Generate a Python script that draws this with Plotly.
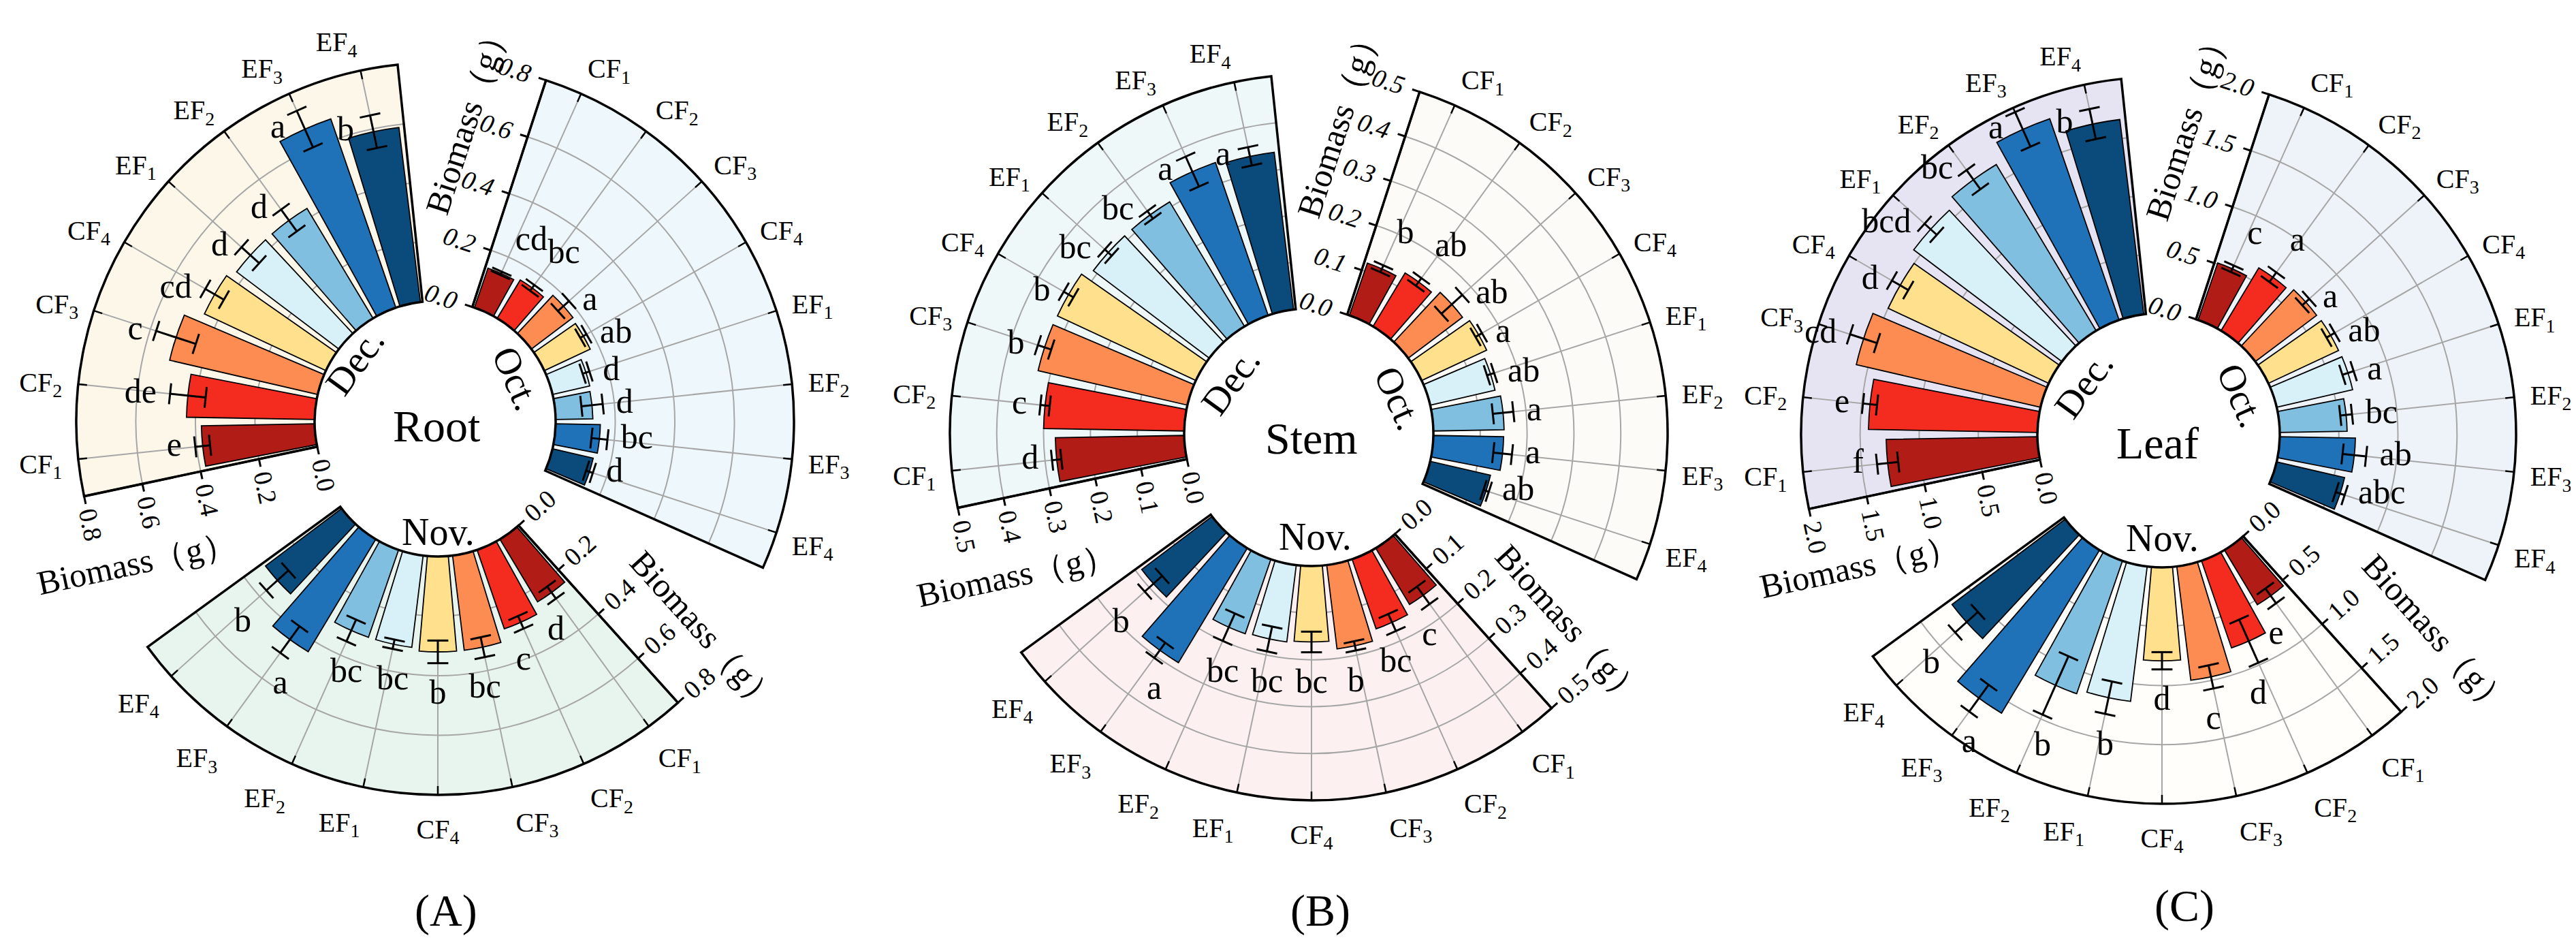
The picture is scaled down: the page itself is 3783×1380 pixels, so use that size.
import math
import plotly.graph_objects as go

W, H = 3783, 1380
FONT = "Liberation Serif"

# ---------------- data ----------------
categories = ["CF<sub>1</sub>", "CF<sub>2</sub>", "CF<sub>3</sub>", "CF<sub>4</sub>",
              "EF<sub>1</sub>", "EF<sub>2</sub>", "EF<sub>3</sub>", "EF<sub>4</sub>"]
bar_colors = ["#b11c17", "#f42b1f", "#fc8c51", "#fee08d",
              "#d8f1f8", "#80bfdf", "#1f72b8", "#0b4b7c"]
months = ["Oct.", "Nov.", "Dec."]
organs = ["Root", "Stem", "Leaf"]
panel_tags = ["(A)", "(B)", "(C)"]

root_oct = [0.14, 0.15, 0.175, 0.17, 0.128, 0.125, 0.15, 0.14]
root_oct_err = [0.006, 0.012, 0.025, 0.012, 0.012, 0.036, 0.027, 0.012]
root_oct_sig = ["cd", "bc", "a", "ab", "d", "d", "bc", "d"]
root_nov = [0.245, 0.28, 0.32, 0.32, 0.31, 0.31, 0.44, 0.32]
root_nov_err = [0.025, 0.023, 0.034, 0.038, 0.016, 0.04, 0.055, 0.05]
root_nov_sig = ["d", "c", "bc", "b", "bc", "bc", "a", "b"]
root_dec = [0.38, 0.43, 0.51, 0.45, 0.43, 0.43, 0.67, 0.59]
root_dec_err = [0.025, 0.06, 0.07, 0.036, 0.04, 0.045, 0.067, 0.056]
root_dec_sig = ["e", "de", "c", "cd", "d", "d", "a", "b"]

stem_oct = [0.118, 0.133, 0.145, 0.153, 0.142, 0.151, 0.15, 0.132]
stem_oct_err = [0.008, 0.01, 0.03, 0.008, 0.008, 0.022, 0.02, 0.006]
stem_oct_sig = ["b", "ab", "ab", "a", "ab", "a", "a", "ab"]
stem_nov = [0.14, 0.157, 0.18, 0.162, 0.165, 0.168, 0.285, 0.188]
stem_nov_err = [0.023, 0.02, 0.01, 0.022, 0.027, 0.032, 0.02, 0.025]
stem_nov_sig = ["c", "bc", "b", "bc", "bc", "bc", "a", "b"]
stem_dec = [0.275, 0.30, 0.327, 0.326, 0.31, 0.31, 0.345, 0.338]
stem_dec_err = [0.01, 0.01, 0.015, 0.012, 0.01, 0.01, 0.035, 0.02]
stem_dec_sig = ["d", "c", "b", "b", "bc", "bc", "a", "a"]

leaf_oct = [0.51, 0.62, 0.65, 0.655, 0.66, 0.57, 0.64, 0.59]
leaf_oct_err = [0.03, 0.05, 0.04, 0.04, 0.05, 0.05, 0.1, 0.04]
leaf_oct_sig = ["c", "a", "a", "ab", "a", "bc", "ab", "abc"]
leaf_nov = [0.54, 0.78, 0.97, 0.79, 1.15, 1.19, 1.61, 1.20]
leaf_nov_err = [0.077, 0.20, 0.10, 0.073, 0.14, 0.27, 0.14, 0.13]
leaf_nov_sig = ["e", "d", "c", "d", "b", "b", "a", "b"]
leaf_dec = [1.28, 1.43, 1.60, 1.50, 1.57, 1.64, 1.80, 1.66]
leaf_dec_err = [0.09, 0.06, 0.12, 0.08, 0.07, 0.10, 0.16, 0.13]
leaf_dec_sig = ["f", "e", "cd", "d", "bcd", "bc", "a", "b"]

radial_max = [0.8, 0.5, 2.0]
radial_step = [0.2, 0.1, 0.5]

values = {
    "Root": {"Oct.": (root_oct, root_oct_err, root_oct_sig),
             "Nov.": (root_nov, root_nov_err, root_nov_sig),
             "Dec.": (root_dec, root_dec_err, root_dec_sig)},
    "Stem": {"Oct.": (stem_oct, stem_oct_err, stem_oct_sig),
             "Nov.": (stem_nov, stem_nov_err, stem_nov_sig),
             "Dec.": (stem_dec, stem_dec_err, stem_dec_sig)},
    "Leaf": {"Oct.": (leaf_oct, leaf_oct_err, leaf_oct_sig),
             "Nov.": (leaf_nov, leaf_nov_err, leaf_nov_sig),
             "Dec.": (leaf_dec, leaf_dec_err, leaf_dec_sig)},
}

# ---------------- layout / style ----------------
geom = {
    "Root": dict(cx=631, cy=611, ncx=635, ncy=632, hole=177, R=527),
    "Stem": dict(cx=1914, cy=628, ncx=1918, ncy=640, hole=183, R=527),
    "Leaf": dict(cx=3162, cy=630, ncx=3167, ncy=647, hole=178, R=525),
}
PERIOD = 30  # 12 degrees per category
month_style = {
    "Oct.": dict(sector=[-24, 72], rotation=66, axis_angle=72, tickangle=90, italic=True,
                 textpos=["top right", "top right", "middle right", "middle right",
                          "middle right", "middle right", "middle right", "middle right"],
                 at_err=[True] * 8, msize=[30] * 8),
    "Nov.": dict(sector=[216, 312], rotation=-54, axis_angle=-48, tickangle=-90, italic=False,
                 textpos=["bottom center"] * 7 + ["bottom left"],
                 at_err=[True] * 8, msize=[34] * 8),
    "Dec.": dict(sector=[96, 192], rotation=-174, axis_angle=-168, tickangle=-90, italic=False,
                 textpos=["middle left"] * 8,
                 at_err=[True] * 6 + [False, False], msize=[30] * 6 + [44, 44]),
}
bgcolors = {
    "Root": {"Oct.": "#eef8fc", "Nov.": "#e8f5ef", "Dec.": "#fdf7ea"},
    "Stem": {"Oct.": "#fdfbf8", "Nov.": "#fdf0f1", "Dec.": "#eff8f8"},
    "Leaf": {"Oct.": "#eef3f9", "Nov.": "#fffefa", "Dec.": "#e6e4f2"},
}
GRID = "#a6a6a6"

month_label_pos = {
    "Root": {"Oct.": (750, 547), "Nov.": (635, 773), "Dec.": (513, 523)},
    "Stem": {"Oct.": (2046, 577), "Nov.": (1924, 780), "Dec.": (1799, 552)},
    "Leaf": {"Oct.": (3283, 572), "Nov.": (3167, 782), "Dec.": (3052, 557)},
}
month_label_angle = {"Oct.": 66, "Nov.": 0, "Dec.": -54}
organ_pos = {"Root": (633, 617), "Stem": (1918, 635), "Leaf": (3160, 642)}
tag_pos = {"Root": (647, 1329), "Stem": (1931, 1329), "Leaf": (3200, 1322)}
title_pos = {
    "Root": {"Oct.": (678, 164), "Nov.": (1026, 918), "Dec.": (192, 818)},
    "Stem": {"Oct.": (1958, 169), "Nov.": (2297, 909), "Dec.": (1484, 836)},
    "Leaf": {"Oct.": (3204, 173), "Nov.": (3570, 923), "Dec.": (2722, 823)},
}
title_angle = {"Oct.": -72, "Nov.": 48, "Dec.": -12}


def sector_bbox(sector):
    s0, s1 = sector
    arc = s1 - s0
    a0 = s0 % 360
    a1 = a0 + arc
    ax0, ay0 = math.cos(math.radians(a0)), math.sin(math.radians(a0))
    ax1, ay1 = math.cos(math.radians(a1)), math.sin(math.radians(a1))
    if (a0 <= 90 and a1 >= 90) or (a0 > 90 and a1 >= 450):
        y1 = 1
    elif ay0 <= 0 and ay1 <= 0:
        y1 = 0
    else:
        y1 = max(ay0, ay1)
    if (a0 <= 180 and a1 >= 180) or (a0 > 180 and a1 >= 540):
        x0 = -1
    elif ax0 >= 0 and ax1 >= 0:
        x0 = 0
    else:
        x0 = min(ax0, ax1)
    if (a0 <= 270 and a1 >= 270) or (a0 > 270 and a1 >= 630):
        y0 = -1
    elif ay0 >= 0 and ay1 >= 0:
        y0 = 0
    else:
        y0 = min(ay0, ay1)
    if a1 >= 360:
        x1 = 1
    elif ax0 <= 0 and ax1 <= 0:
        x1 = 0
    else:
        x1 = max(ax0, ax1)
    return x0, y0, x1, y1


fig = go.Figure()
layout_polars = {}
annotations = []
k = 0
for p, organ in enumerate(organs):
    g = geom[organ]
    rmax = radial_max[p]
    step = radial_step[p]
    nt = int(round(rmax / step))
    tickvals = [round(i * step, 3) for i in range(nt + 1)]
    for month in months:
        k += 1
        pid = "polar" if k == 1 else f"polar{k}"
        ms = month_style[month]
        cx, cy = (g["ncx"], g["ncy"]) if month == "Nov." else (g["cx"], g["cy"])
        R = g["R"]
        bx0, by0, bx1, by1 = sector_bbox(ms["sector"])
        dom_x = [(cx + R * bx0) / W, (cx + R * bx1) / W]
        dom_y = [1 - (cy - R * by0) / H, 1 - (cy - R * by1) / H]
        ticktext = [f"{v:.1f}" for v in tickvals]
        if ms["italic"]:
            ticktext = [f"<i>{t}</i>" for t in ticktext]
        layout_polars[pid] = dict(
            domain=dict(x=dom_x, y=dom_y),
            sector=ms["sector"],
            hole=g["hole"] / R,
            bgcolor=bgcolors[organ][month],
            radialaxis=dict(
                range=[0, rmax], angle=ms["axis_angle"], side="counterclockwise",
                tickmode="array", tickvals=tickvals, ticktext=ticktext,
                tickangle=ms["tickangle"],
                tickfont=dict(family=FONT, size=38, color="black"),
                ticks="outside", ticklen=10, tickwidth=2.5, tickcolor="black",
                showline=True, linecolor="black", linewidth=3,
                showgrid=True, gridcolor=GRID, gridwidth=1.5,
                layer="above traces"),
            angularaxis=dict(
                type="category", categoryorder="array", categoryarray=categories,
                period=PERIOD, rotation=ms["rotation"], direction="clockwise",
                tickfont=dict(family=FONT, size=40, color="black"),
                ticks="outside", ticklen=14, tickwidth=1, tickcolor="rgba(0,0,0,0)",
                showline=True, linecolor="black", linewidth=3.5,
                showgrid=True, gridcolor=GRID, gridwidth=1.5),
        )

        vals, errs, sigs = values[organ][month]
        span = R - g["hole"]
        # bars
        fig.add_trace(go.Barpolar(
            r=vals, theta=categories, width=0.83, subplot=pid,
            marker=dict(color=bar_colors, line=dict(color="black", width=1.8)),
            hoverinfo="skip", showlegend=False))
        # inward tick marks on the outer arc
        tr, tt = [], []
        for c in categories:
            tr += [rmax * (1 - 13 / span), rmax, None]
            tt += [c, c, None]
        fig.add_trace(go.Scatterpolar(
            r=tr, theta=tt, mode="lines", subplot=pid, cliponaxis=False,
            line=dict(color="black", width=2.5), hoverinfo="skip", showlegend=False))
        # error bar stems
        er, et = [], []
        for v, e, c in zip(vals, errs, categories):
            er += [v - e, v + e, None]
            et += [c, c, None]
        fig.add_trace(go.Scatterpolar(
            r=er, theta=et, mode="lines", subplot=pid, cliponaxis=False,
            line=dict(color="black", width=3), hoverinfo="skip", showlegend=False))
        # caps (perpendicular to the bar direction)
        cap_r, cap_t, cap_a = [], [], []
        for i, (v, e, c) in enumerate(zip(vals, errs, categories)):
            phi = ms["rotation"] - i * 360 / PERIOD
            cap_r += [v - e, v + e]
            cap_t += [c, c]
            cap_a += [-phi, -phi]
        fig.add_trace(go.Scatterpolar(
            r=cap_r, theta=cap_t, mode="markers", subplot=pid, cliponaxis=False,
            marker=dict(symbol="line-ns", size=22, angle=cap_a,
                        line=dict(color="black", width=3)),
            hoverinfo="skip", showlegend=False))
        # significance letters
        fig.add_trace(go.Scatterpolar(
            r=[v + e if a else v for v, e, a in zip(vals, errs, ms["at_err"])],
            theta=categories,
            mode="markers+text", subplot=pid, cliponaxis=False,
            text=sigs, textposition=ms["textpos"],
            textfont=dict(family=FONT, size=50, color="black"),
            marker=dict(size=ms["msize"], color="rgba(0,0,0,0)", line=dict(width=0)),
            hoverinfo="skip", showlegend=False))

        # month label
        mx, my = month_label_pos[organ][month]
        annotations.append(dict(
            text=month, x=mx / W, y=1 - my / H, xref="paper", yref="paper",
            showarrow=False, textangle=month_label_angle[month],
            font=dict(family=FONT, size=56, color="black"),
            xanchor="center", yanchor="middle"))
        # radial axis title
        tx, ty = title_pos[organ][month]
        annotations.append(dict(
            text="Biomass（g）", x=tx / W, y=1 - ty / H, xref="paper", yref="paper",
            showarrow=False, textangle=title_angle[month],
            font=dict(family=FONT, size=50, color="black"),
            xanchor="center", yanchor="middle"))

    ox, oy = organ_pos[organ]
    annotations.append(dict(
        text=organ, x=ox / W, y=1 - oy / H, xref="paper", yref="paper",
        showarrow=False, font=dict(family=FONT, size=66, color="black"),
        xanchor="center", yanchor="middle"))
    px, py = tag_pos[organ]
    annotations.append(dict(
        text=panel_tags[p], x=px / W, y=1 - py / H, xref="paper", yref="paper",
        showarrow=False, font=dict(family=FONT, size=66, color="black"),
        xanchor="center", yanchor="middle"))

fig.update_layout(
    width=W, height=H,
    margin=dict(l=0, r=0, t=0, b=0),
    paper_bgcolor="white", plot_bgcolor="white",
    font=dict(family=FONT, color="black"),
    showlegend=False,
    annotations=annotations,
    **layout_polars,
)

fig.write_html("out.html")
